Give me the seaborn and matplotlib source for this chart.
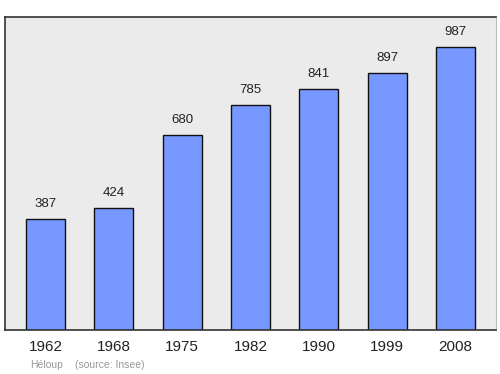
import matplotlib
matplotlib.use("Agg")
import matplotlib.pyplot as plt
import seaborn as sns
import pandas as pd

years = ["1962", "1968", "1975", "1982", "1990", "1999", "2008"]
population = [387, 424, 680, 785, 841, 897, 987]
credit_author = "Héloup"
credit_source = "(source: Insee)"

df = pd.DataFrame({"year": years, "pop": population})

sns.set_theme(style="white")
plt.rcParams["font.family"] = ["Liberation Sans", "DejaVu Sans"]

fig = plt.figure(figsize=(5, 3.74), dpi=100)
ax = fig.add_axes([0.01, 44 / 374, 0.982, 313 / 374])
ax.set_facecolor("#ebebeb")

sns.barplot(data=df, x="year", y="pop", ax=ax, color="#7799ff",
            saturation=1, width=0.57, edgecolor="#111111", linewidth=1)

ax.set_xlim(-0.593, 6.593)
ax.set_ylim(0, 1092)
ax.set_yticks([])
ax.set_xlabel("")
ax.set_ylabel("")
ax.tick_params(axis="x", length=0, labelsize=11, pad=7.5, colors="#222222")

for i, v in enumerate(population):
    ax.annotate(str(v), (i, v), xytext=(0, 6.5), textcoords="offset points",
                ha="center", va="bottom", fontsize=9.5, color="#222222")

for side in ["left", "top", "bottom"]:
    ax.spines[side].set_color("#333333")
    ax.spines[side].set_linewidth(1.2)
ax.spines["right"].set_color("#bbbbbb")
ax.spines["right"].set_linewidth(0.8)

fig.text(30 / 500, 1 - 365 / 374, credit_author, fontsize=7.5, color="#999999",
         va="center", ha="left")
fig.text(75 / 500, 1 - 365 / 374, credit_source, fontsize=7.5, color="#999999",
         va="center", ha="left")

fig.savefig("out.png", dpi=100, facecolor="white")
